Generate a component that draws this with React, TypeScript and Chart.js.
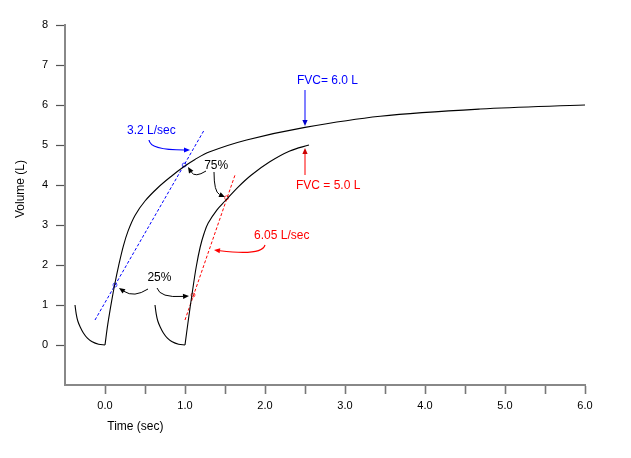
import React, { useEffect, useRef } from "react";
import { Chart, registerables } from "chart.js";

Chart.register(...registerables);

// ---- data ----
const inhaleA_t = [-0.375, -0.36, -0.34, -0.31, -0.27, -0.22, -0.16, -0.08, 0];
const inhaleA_v = [1.0, 0.78, 0.6, 0.45, 0.3, 0.17, 0.08, 0.02, 0];
const exhaleA_t = [0, 0.035, 0.085, 0.125, 0.17, 0.23, 0.29, 0.375, 0.5, 0.67, 0.83, 0.98, 1.125, 1.31, 1.77, 2.5, 3.44, 4.69, 6.0];
const exhaleA_v = [0, 0.52, 1.12, 1.55, 1.98, 2.48, 2.86, 3.24, 3.6, 3.95, 4.22, 4.45, 4.64, 4.83, 5.125, 5.44, 5.72, 5.9, 6.0];

const inhaleB_t = [0.625, 0.64, 0.66, 0.69, 0.73, 0.78, 0.84, 0.92, 1.0];
const inhaleB_v = [1.0, 0.78, 0.6, 0.45, 0.3, 0.17, 0.08, 0.02, 0];
const exhaleB_t = [1.0, 1.04, 1.09, 1.14, 1.19, 1.24, 1.29, 1.4, 1.5, 1.67, 1.83, 2.06, 2.31, 2.55];
const exhaleB_v = [0, 0.6, 1.3, 1.95, 2.45, 2.8, 3.05, 3.38, 3.6, 3.96, 4.25, 4.58, 4.85, 5.0];

const tangentBlue_t = [-0.125, 1.24];
const tangentBlue_v = [0.625, 5.375];
const tangentRed_t = [1.0, 1.625];
const tangentRed_v = [0.625, 4.25];

const markBlue_t = [0.125, 0.99];
const markBlue_v = [1.5, 4.5];
const markRed_t = [1.1, 1.52];
const markRed_v = [1.25, 3.68];

const xTicks = [0, 0.5, 1, 1.5, 2, 2.5, 3, 3.5, 4, 4.5, 5, 5.5, 6];
const xTickLabels = ["0.0", "", "1.0", "", "2.0", "", "3.0", "", "4.0", "", "5.0", "", "6.0"];
const yTicks = [0, 1, 2, 3, 4, 5, 6, 7, 8];
const yTickLabels = ["0", "1", "2", "3", "4", "5", "6", "7", "8"];

const BLUE = "#0000ff";
const RED = "#ff0000";
const FONT = '"Liberation Sans", Arial, sans-serif';

// text annotations
const labelTexts = ["3.2 L/sec", "FVC= 6.0 L", "FVC = 5.0 L", "75%", "25%", "6.05 L/sec"];
const labelX = [0.58, 2.78, 2.79, 1.39, 0.68, 2.21];
const labelY = [5.35, 6.6, 3.99, 4.475, 1.675, 2.725];
const labelColor = [BLUE, BLUE, RED, "#000", "#000", RED];

// arrows: start, control, end (data units)
const arrowSX = [0.55, 2.5, 2.5, 1.2625, 1.3625, 0.5375, 0.65, 2.0];
const arrowSY = [5.125, 6.375, 4.25, 4.35, 4.325, 1.4, 1.425, 2.5];
const arrowCX = [0.5625, 2.5, 2.5, 1.125, 1.3625, 0.3625, 0.6875, 1.9625];
const arrowCY = [4.875, 5.9, 4.6, 4.175, 3.825, 1.175, 1.175, 2.225];
const arrowEX = [1.0625, 2.5, 2.5, 1.0375, 1.5, 0.175, 1.05, 1.3625];
const arrowEY = [4.875, 5.475, 4.925, 4.45, 3.7, 1.425, 1.225, 2.375];
const arrowLine = [BLUE, "rgba(60,60,255,0.65)", "rgba(255,70,70,0.7)", "#000", "#000", "#000", "#000", RED];
const arrowHead = [BLUE, "#0000cc", "#cc0000", "#000", "#000", "#000", "#000", RED];
const arrowWidth = [1.2, 2, 2, 1, 1, 1, 1, 1.2];

function pts(t: number[], v: number[]) {
  return t.map((x, i) => ({ x, y: v[i] }));
}

const annotationPlugin = {
  id: "annot",
  afterDatasetsDraw(chart: any) {
    const { ctx, scales, chartArea } = chart;
    const X = (v: number) => scales.x.getPixelForValue(v);
    const Y = (v: number) => scales.y.getPixelForValue(v);
    ctx.save();
    for (let i = 0; i < arrowSX.length; i++) {
      const sx = X(arrowSX[i]), sy = Y(arrowSY[i]);
      const cx = X(arrowCX[i]), cy = Y(arrowCY[i]);
      const ex = X(arrowEX[i]), ey = Y(arrowEY[i]);
      const ang = Math.atan2(ey - cy, ex - cx);
      const hl = 6, hw = 2.6;
      const bx = ex - hl * Math.cos(ang), by = ey - hl * Math.sin(ang);
      ctx.beginPath();
      ctx.strokeStyle = arrowLine[i];
      ctx.lineWidth = arrowWidth[i];
      ctx.moveTo(sx, sy);
      ctx.quadraticCurveTo(cx, cy, bx, by);
      ctx.stroke();
      ctx.beginPath();
      ctx.fillStyle = arrowHead[i];
      ctx.moveTo(ex, ey);
      ctx.lineTo(bx + hw * Math.sin(ang), by - hw * Math.cos(ang));
      ctx.lineTo(bx - hw * Math.sin(ang), by + hw * Math.cos(ang));
      ctx.closePath();
      ctx.fill();
    }
    ctx.font = "12px " + FONT;
    ctx.textAlign = "center";
    ctx.textBaseline = "middle";
    for (let i = 0; i < labelTexts.length; i++) {
      ctx.fillStyle = labelColor[i];
      ctx.fillText(labelTexts[i], X(labelX[i]), Y(labelY[i]));
    }
    ctx.fillStyle = "#000";
    ctx.fillText("Time (sec)", X(0.38), chartArea.bottom + 42);
    ctx.translate(chartArea.left - 44, Y(3.9));
    ctx.rotate(-Math.PI / 2);
    ctx.fillText("Volume (L)", 0, 0);
    ctx.restore();
  },
};

export default function App() {
  const ref = useRef<HTMLCanvasElement>(null);
  useEffect(() => {
    if (!ref.current) return;
    const curve = (t: number[], v: number[]) => ({
      data: pts(t, v),
      showLine: true,
      borderColor: "#000",
      borderWidth: 1.1,
      pointRadius: 0,
      tension: 0.35,
    });
    const tangent = (t: number[], v: number[], c: string) => ({
      data: pts(t, v),
      showLine: true,
      borderColor: c,
      borderWidth: 1,
      borderDash: [3, 2],
      pointRadius: 0,
    });
    const marks = (t: number[], v: number[], c: string) => ({
      data: pts(t, v),
      showLine: false,
      pointRadius: 2,
      pointBorderColor: c,
      pointBackgroundColor: "transparent",
      pointBorderWidth: 0.7,
    });
    const chart = new Chart(ref.current, {
      type: "scatter",
      data: {
        datasets: [
          curve(inhaleA_t, inhaleA_v),
          curve(exhaleA_t, exhaleA_v),
          curve(inhaleB_t, inhaleB_v),
          curve(exhaleB_t, exhaleB_v),
          tangent(tangentBlue_t, tangentBlue_v, BLUE),
          tangent(tangentRed_t, tangentRed_v, RED),
          marks(markBlue_t, markBlue_v, BLUE),
          marks(markRed_t, markRed_v, RED),
        ] as any,
      },
      options: {
        animation: false,
        responsive: false,
        layout: { padding: { top: 25, right: 46, left: 0, bottom: 0 } },
        plugins: { legend: { display: false }, tooltip: { enabled: false } },
        scales: {
          x: {
            type: "linear",
            min: -0.5,
            max: 6,
            afterBuildTicks: (s: any) => {
              s.ticks = xTicks.map((v) => ({ value: v }));
            },
            afterFit: (s: any) => {
              s.height = 73;
            },
            ticks: {
              autoSkip: false,
              maxRotation: 0,
              padding: 5,
              color: "#000",
              font: { family: FONT, size: 11 },
              callback: (v: any) => {
                const i = xTicks.indexOf(Number(v));
                return i >= 0 ? xTickLabels[i] : "";
              },
            },
            grid: {
              drawOnChartArea: false,
              drawTicks: true,
              tickLength: 9,
              tickColor: "#777",
              tickWidth: 1.6,
            },
            border: { display: true, color: "#888", width: 2 },
          },
          y: {
            type: "linear",
            min: -1,
            max: 8,
            afterBuildTicks: (s: any) => {
              s.ticks = yTicks.map((v) => ({ value: v }));
            },
            afterFit: (s: any) => {
              s.width = 65;
            },
            ticks: {
              autoSkip: false,
              padding: 8,
              color: "#000",
              font: { family: FONT, size: 11 },
              callback: (v: any) => {
                const i = yTicks.indexOf(Number(v));
                return i >= 0 ? yTickLabels[i] : "";
              },
            },
            grid: {
              drawOnChartArea: false,
              drawTicks: true,
              tickLength: 9,
              tickColor: "#555",
              tickWidth: 1.2,
            },
            border: { display: true, color: "#888", width: 2 },
          },
        },
      },
      plugins: [annotationPlugin],
    });
    return () => chart.destroy();
  }, []);
  return (
    <div style={{ position: "absolute", left: 0, top: 0, width: 631, height: 458, background: "#fff" }}>
      <canvas ref={ref} width={631} height={458} style={{ display: "block", width: 631, height: 458 }} />
    </div>
  );
}
